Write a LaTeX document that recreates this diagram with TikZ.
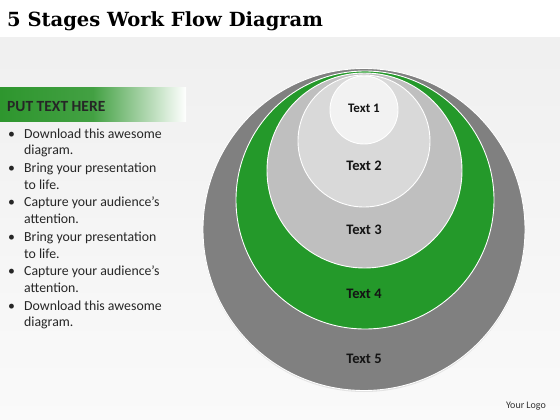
\documentclass[tikz,border=0pt]{standalone}
\usepackage{fontspec}
\setmainfont{Carlito}
\newfontfamily\titlefont{DejaVu Serif}
\usetikzlibrary{positioning, shadows}

\definecolor{stagegreen}{RGB}{36,153,42}
\definecolor{stagedark}{RGB}{128,128,128}
\definecolor{stagemid}{RGB}{191,191,191}
\definecolor{stagelight}{RGB}{217,217,217}
\definecolor{stagepale}{RGB}{242,242,242}
\definecolor{headgreen}{RGB}{46,150,46}

\begin{document}
\begin{tikzpicture}[x=1pt, y=-1pt,
	stage/.style = {circle, draw=white, line width=0.9pt, inner sep=0pt},
	stagetext/.style = {font=\bfseries\fontsize{14.5}{16}\selectfont, text=black!92},
	itemtext/.style = {anchor=base west, align=left, inner sep=0pt,
		font=\fontsize{13.8}{16.8}\selectfont, text=black!85},
]
	% background
	\useasboundingbox (0,0) rectangle (560,420);
	\fill[white] (0,0) rectangle (560,420);
	\shade[top color=black!6, bottom color=black!2] (0,38) rectangle (560,420);

	% title
	\node (title) [anchor=base west, inner sep=0pt, font=\titlefont\bfseries\fontsize{19.5}{22}\selectfont]
		at (7,27) {5 Stages Work Flow Diagram};

	% side header
	\shade[left color=headgreen, right color=white, middle color=headgreen!90] (0,88) rectangle (186,121);
	\node (head) [anchor=base west, inner sep=0pt, font=\bfseries\fontsize{15.5}{18}\selectfont, text=black!85]
		at (7,111) {PUT TEXT HERE};

	% bullet list (base anchor sits on the second line)
	\foreach \i/\y/\txt in {1/138/{Download this awesome\\diagram.},
	                        2/172.4/{Bring your presentation\\to life.},
	                        3/206.8/{Capture your audience’s\\attention.},
	                        4/241.2/{Bring your presentation\\to life.},
	                        5/275.6/{Capture your audience’s\\attention.},
	                        6/310/{Download this awesome\\diagram.}}
	{
		\node (dot\i) [itemtext] at (8,\y) {\textbullet};
		\node (item\i) [itemtext] at (24,{\y+16.8}) {\txt};
	}

	% stages
	\node (s5) [stage, fill=stagedark, minimum size=322pt,
		drop shadow={opacity=0.18, shadow xshift=0pt, shadow yshift=-1.5pt}] at (364,229.5) {};
	\node (s4) [stage, fill=stagegreen, minimum size=258pt] at (365,200) {};
	\node (s3) [stage, fill=stagemid, minimum size=195pt] at (364.5,170.5) {};
	\node (s2) [stage, fill=stagelight, minimum size=132pt] at (364,141) {};
	\node (s1) [stage, fill=stagepale, minimum size=68pt] at (364,110) {};

	\node (t1) [stagetext, font=\bfseries\fontsize{13}{15}\selectfont] at (364,108) {Text 1};
	\node (t2) [stagetext] at (364,166) {Text 2};
	\node (t3) [stagetext] at (364,230) {Text 3};
	\node (t4) [stagetext] at (364,294) {Text 4};
	\node (t5) [stagetext] at (364,359) {Text 5};

	% logo
	\node (logo) [font=\fontsize{10}{12}\selectfont, text=black!80] at (526,406) {Your Logo};
\end{tikzpicture}
\end{document}
